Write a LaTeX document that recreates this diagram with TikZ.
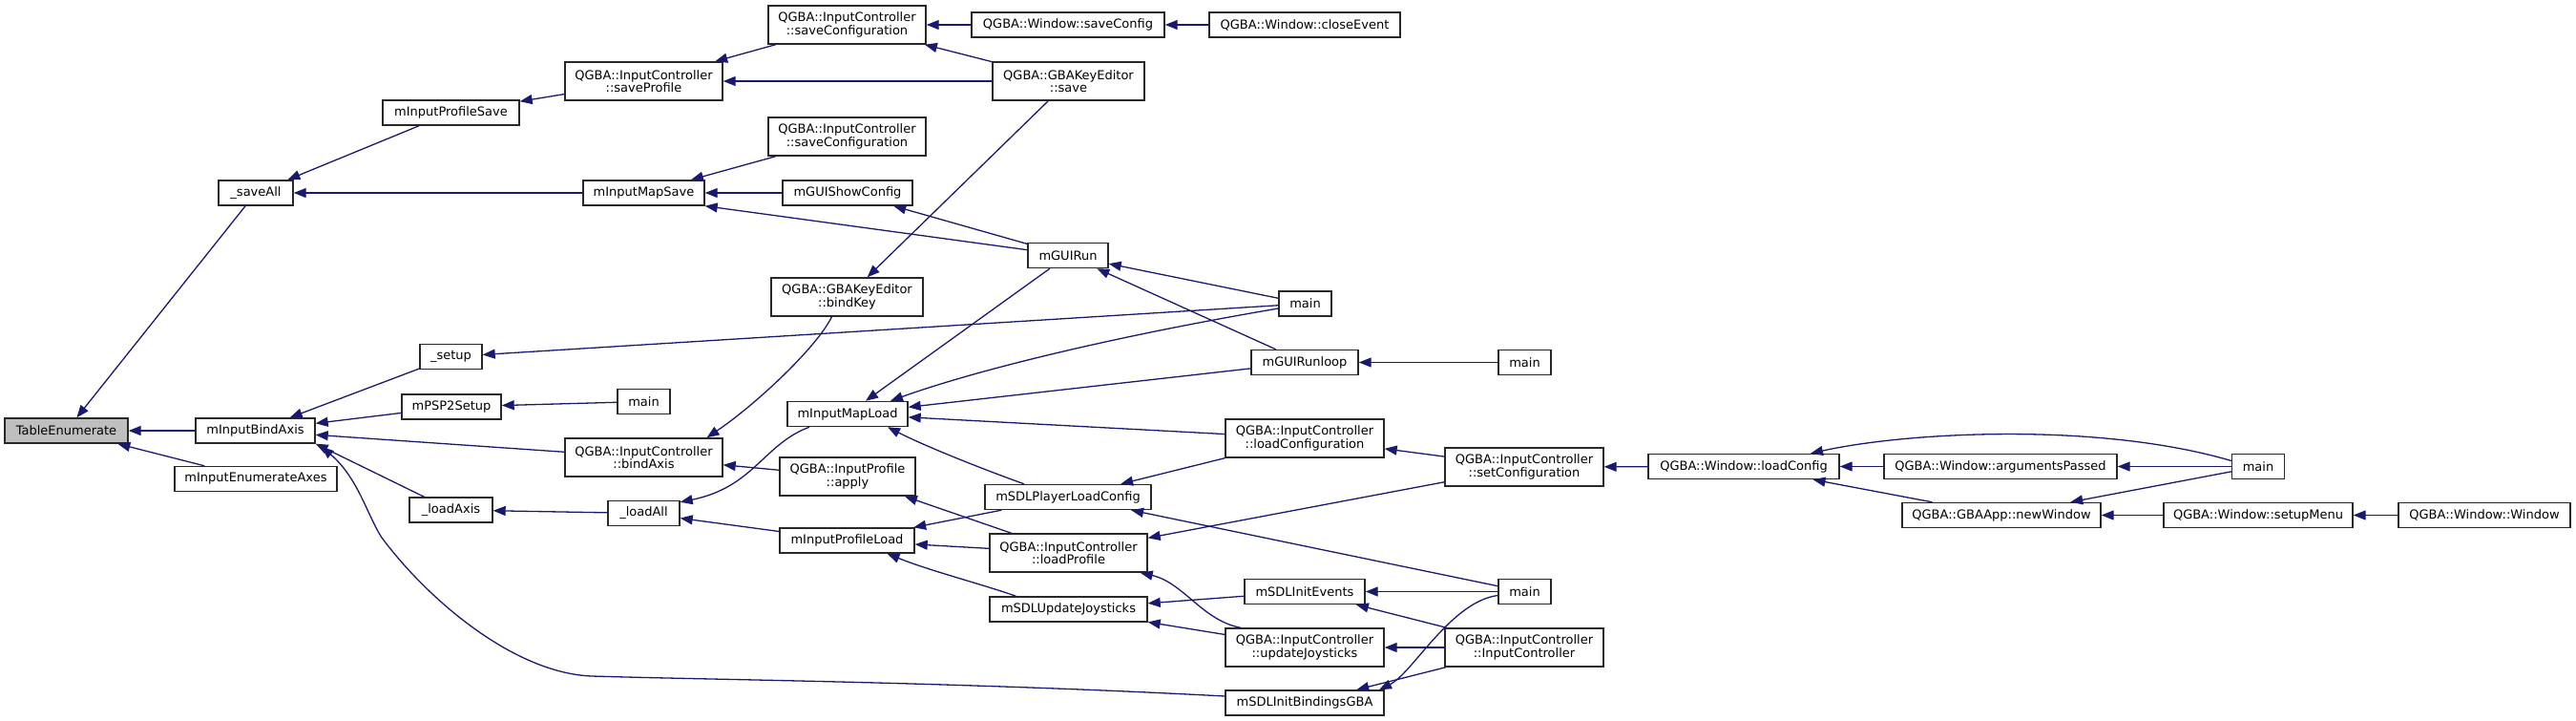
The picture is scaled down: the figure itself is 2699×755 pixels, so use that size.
\documentclass[tikz,border=0pt]{standalone}
\usepackage{fontspec}
\setmainfont{DejaVu Sans}
\usepackage{tikz}
\usetikzlibrary{arrows.meta}
\definecolor{dxedge}{RGB}{25,25,112}
\definecolor{dxframe}{RGB}{40,40,40}
\definecolor{dxsel}{RGB}{191,191,191}

\begin{document}
\begin{tikzpicture}[
  x=1pt, y=-1pt,
  fn/.style={
    rectangle, draw=dxframe, fill=white, line width=1.4pt, inner sep=0pt,
    minimum height=26, align=center, font=\fontsize{13}{13.5}\selectfont
  },
  fntwo/.style={fn, minimum height=40},
  fnsel/.style={fn, fill=dxsel},
  arr/.style={-{Triangle[length=13pt,width=10pt]}, line width=1.3pt, dxedge}
]
  \useasboundingbox (0,0) rectangle (2699,755);

  \node[fnsel, minimum width=129] (te)        at (69.5,451)   {TableEnumerate};
  \node[fn, minimum width=125]    (bindAx)    at (267.5,451)  {mInputBindAxis};
  \node[fn, minimum width=170]    (enumAx)    at (268,501.5)  {mInputEnumerateAxes};
  \node[fn, minimum width=78]     (saveAll)   at (268,202)    {\_saveAll};
  \node[fn, minimum width=143]    (profSave)  at (472.5,118)  {mInputProfileSave};
  \node[fn, minimum width=65]     (setup)     at (472.5,373.5){\_setup};
  \node[fn, minimum width=104]    (psp2)      at (473,426)    {mPSP2Setup};
  \node[fn, minimum width=87]     (loadAxis)  at (472.5,534)  {\_loadAxis};
  \node[fntwo, minimum width=165] (qSaveProf) at (674.5,85)   {QGBA::InputController\\::saveProfile};
  \node[fn, minimum width=127]    (mapSave)   at (674.5,202)  {mInputMapSave};
  \node[fn, minimum width=55]     (main1)     at (674.5,420.5){main};
  \node[fntwo, minimum width=165] (qBindAxis) at (674.5,479)  {QGBA::InputController\\::bindAxis};
  \node[fn, minimum width=75]     (loadAll)   at (674.5,537.5){\_loadAll};
  \node[fntwo, minimum width=165] (qSaveConfA) at (887.5,26)  {QGBA::InputController\\::saveConfiguration};
  \node[fntwo, minimum width=165] (qSaveConfB) at (887.5,143) {QGBA::InputController\\::saveConfiguration};
  \node[fn, minimum width=136]    (showCfg)   at (888,202)    {mGUIShowConfig};
  \node[fntwo, minimum width=159] (keyBind)   at (887.5,311)  {QGBA::GBAKeyEditor\\::bindKey};
  \node[fn, minimum width=126]    (mapLoad)   at (888,433.5)  {mInputMapLoad};
  \node[fntwo, minimum width=142] (qApply)    at (888,499)    {QGBA::InputProfile\\::apply};
  \node[fn, minimum width=141]    (profLoad)  at (887.5,566)  {mInputProfileLoad};
  \node[fn, minimum width=202]    (winSaveCfg) at (1119,26)   {QGBA::Window::saveConfig};
  \node[fntwo, minimum width=159] (keySave)   at (1119.5,85)  {QGBA::GBAKeyEditor\\::save};
  \node[fn, minimum width=84]     (guiRun)    at (1119,267.5) {mGUIRun};
  \node[fn, minimum width=174]    (sdlPlayer) at (1119,520.5) {mSDLPlayerLoadConfig};
  \node[fntwo, minimum width=165] (qLoadProf) at (1119.5,579) {QGBA::InputController\\::loadProfile};
  \node[fn, minimum width=165]    (sdlUpdJoy) at (1119.5,638) {mSDLUpdateJoysticks};
  \node[fn, minimum width=200]    (winClose)  at (1367,26)    {QGBA::Window::closeEvent};
  \node[fn, minimum width=55]     (main2)     at (1367.5,318) {main};
  \node[fn, minimum width=112]    (runloop)   at (1367,379.5) {mGUIRunloop};
  \node[fntwo, minimum width=166] (qLoadConf) at (1367,459)   {QGBA::InputController\\::loadConfiguration};
  \node[fn, minimum width=126]    (sdlEvents) at (1367,619.5) {mSDLInitEvents};
  \node[fntwo, minimum width=166] (qUpdJoy)   at (1367,678)   {QGBA::InputController\\::updateJoysticks};
  \node[fn, minimum width=166]    (sdlBind)   at (1367,736)   {mSDLInitBindingsGBA};
  \node[fn, minimum width=55]     (main3)     at (1597.5,379.5){main};
  \node[fntwo, minimum width=166] (qSetConf)  at (1597,489)   {QGBA::InputController\\::setConfiguration};
  \node[fn, minimum width=55]     (main4)     at (1597.5,619.5){main};
  \node[fntwo, minimum width=166] (qInputCtl) at (1597,678)   {QGBA::InputController\\::InputController};
  \node[fn, minimum width=200]    (winLoadCfg) at (1827,488.5) {QGBA::Window::loadConfig};
  \node[fn, minimum width=244]    (winArgs)   at (2096,488.5) {QGBA::Window::argumentsPassed};
  \node[fn, minimum width=208]    (newWin)    at (2097,539.5) {QGBA::GBAApp::newWindow};
  \node[fn, minimum width=55]     (main5)     at (2366,488.5) {main};
  \node[fn, minimum width=198]    (winSetupMenu) at (2366,539.5) {QGBA::Window::setupMenu};
  \node[fn, minimum width=180]    (winWindow) at (2603,539.5) {QGBA::Window::Window};

  \draw[arr] (bindAx) -- (te);
  \draw[arr] (enumAx) -- (te);
  \draw[arr] (saveAll) -- (te);
  \draw[arr] (profSave) -- (saveAll);
  \draw[arr] (mapSave) -- (saveAll);
  \draw[arr] (qSaveProf) -- (profSave);
  \draw[arr] (qSaveConfA) -- (qSaveProf);
  \draw[arr] (keySave) -- (qSaveProf);
  \draw[arr] (winSaveCfg) -- (qSaveConfA);
  \draw[arr] (keySave) -- (qSaveConfA);
  \draw[arr] (winClose) -- (winSaveCfg);
  \draw[arr] (qSaveConfB) -- (mapSave);
  \draw[arr] (showCfg) -- (mapSave);
  \draw[arr] (guiRun) -- (mapSave.south east);
  \draw[arr] (guiRun) -- (showCfg);
  \draw[arr] (keySave) -- (keyBind);
  \draw[arr] ([xshift=-16]keyBind.south) .. controls (855,365) and (790,425) .. ([xshift=66]qBindAxis.north);
  \draw[arr] (main2) -- (guiRun);
  \draw[arr] (runloop) -- (guiRun);
  \draw[arr] (main3) -- (runloop);
  \draw[arr] (guiRun) -- (mapLoad);
  \draw[arr] (main2) -- (setup);
  \draw[arr] ([yshift=-5]main2.west) .. controls (1180,350) and (1030,385) .. ([xshift=45]mapLoad.north);
  \draw[arr] (runloop) -- (mapLoad);
  \draw[arr] (qLoadConf) -- (mapLoad);
  \draw[arr] ([xshift=-46]sdlPlayer.north) .. controls (1040,495) and (975,470) .. ([xshift=42]mapLoad.south);
  \draw[arr] (qLoadConf) -- (sdlPlayer);
  \draw[arr] (qSetConf) -- (qLoadConf);
  \draw[arr] (winLoadCfg) -- (qSetConf);
  \draw[arr] (winArgs) -- (winLoadCfg);
  \draw[arr] ([yshift=6]main5.west) .. controls (2200,442) and (2000,452) .. ([xshift=70]winLoadCfg.north);
  \draw[arr] (main5) -- (winArgs);
  \draw[arr] (newWin) -- (winLoadCfg);
  \draw[arr] (main5) -- (newWin);
  \draw[arr] (winSetupMenu) -- (newWin);
  \draw[arr] (winWindow) -- (winSetupMenu);
  \draw[arr] (main4) -- (sdlPlayer);
  \draw[arr] (qSetConf) -- (qLoadProf);
  \draw[arr] (sdlPlayer) -- (profLoad);
  \draw[arr] (qLoadProf) -- (profLoad);
  \draw[arr] ([xshift=-55]sdlUpdJoy.north) .. controls (1030,612) and (975,598) .. ([xshift=42]profLoad.south);
  \draw[arr] (qLoadProf) -- (qApply);
  \draw[arr] ([xshift=-67]qUpdJoy.north) .. controls (1260,650) and (1240,610) .. ([xshift=-8]qLoadProf.south east);
  \draw[arr] (sdlEvents) -- (sdlUpdJoy);
  \draw[arr] (qUpdJoy) -- (sdlUpdJoy);
  \draw[arr] (main4) -- (sdlEvents);
  \draw[arr] (qInputCtl) -- (sdlEvents);
  \draw[arr] (qInputCtl) -- (qUpdJoy);
  \draw[arr] (qInputCtl) -- (sdlBind);
  \draw[arr] ([yshift=-4]main4.west) .. controls (1520,630) and (1480,705) .. ([xshift=78]sdlBind.north);
  \draw[arr] ([yshift=7]sdlBind.west) .. controls (1000,714) and (750,712) .. (620,708)
    .. controls (540,705) and (450,630) .. (400,563)
    .. controls (385,540) and (375,500) .. ([xshift=6,yshift=-3]bindAx.south east);
  \draw[arr] (qBindAxis) -- (bindAx);
  \draw[arr] (loadAxis) -- (bindAx.south east);
  \draw[arr] (setup) -- (bindAx);
  \draw[arr] (psp2) -- (bindAx);
  \draw[arr] (qApply) -- (qBindAxis);
  \draw[arr] (main1) -- (psp2);
  \draw[arr] (loadAll) -- (loadAxis);
  \draw[arr] ([xshift=-40]mapLoad.south) .. controls (800,465) and (790,510) .. ([yshift=-2]loadAll.north east);
  \draw[arr] (profLoad) -- (loadAll);
\end{tikzpicture}
\end{document}
